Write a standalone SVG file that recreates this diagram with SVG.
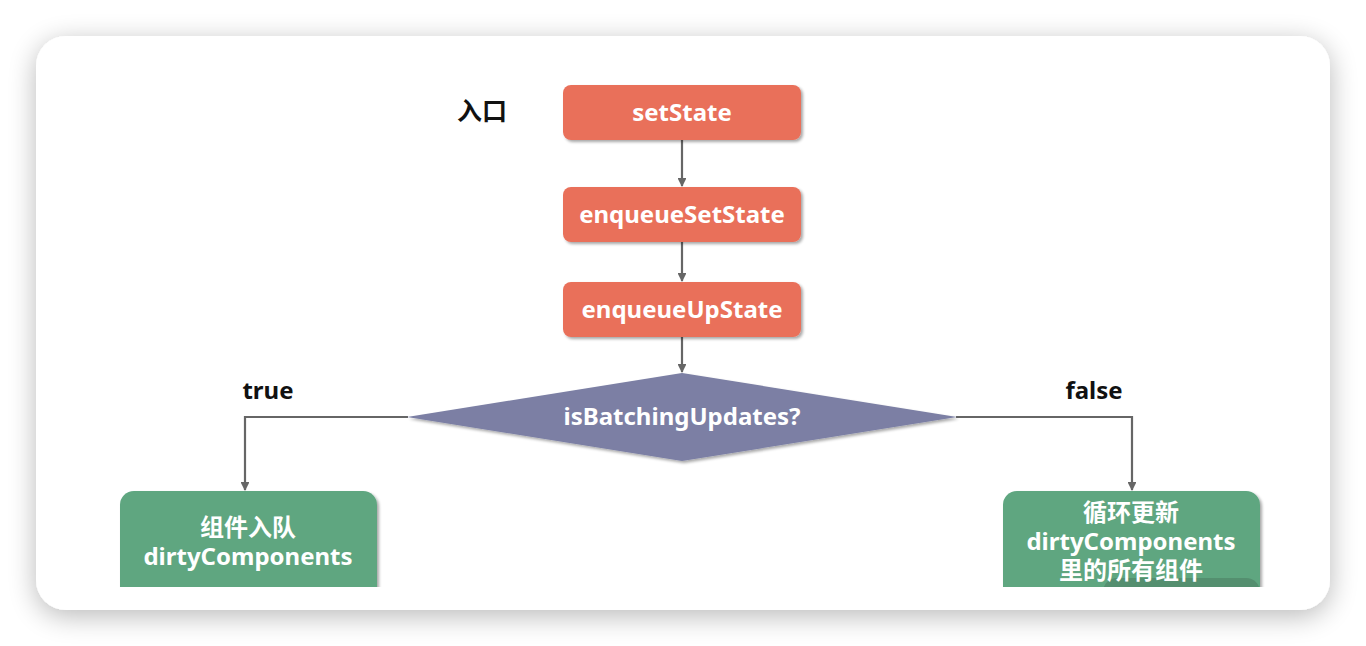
<svg xmlns="http://www.w3.org/2000/svg" width="1366" height="646" viewBox="0 0 1366 646">
<defs>
<filter id="cardShadow" x="-10%" y="-10%" width="120%" height="130%">
<feGaussianBlur in="SourceAlpha" stdDeviation="14"/>
<feOffset dy="6"/>
<feComponentTransfer><feFuncA type="linear" slope="0.28"/></feComponentTransfer>
<feMerge><feMergeNode/><feMergeNode in="SourceGraphic"/></feMerge>
</filter>
<filter id="boxShadow" x="-10%" y="-20%" width="125%" height="150%">
<feGaussianBlur in="SourceAlpha" stdDeviation="1.5"/>
<feOffset dx="2" dy="2"/>
<feComponentTransfer><feFuncA type="linear" slope="0.35"/></feComponentTransfer>
<feMerge><feMergeNode/><feMergeNode in="SourceGraphic"/></feMerge>
</filter>
<clipPath id="content"><rect x="36" y="36" width="1294" height="551"/></clipPath>
<marker id="arrow" viewBox="0 0 10 10" refX="9" refY="5" markerWidth="4" markerHeight="4" orient="auto" markerUnits="strokeWidth">
<path d="M0,0 L10,5 L0,10 z" fill="#666666"/>
</marker>
<style>
.orange{fill:#E9705A;filter:url(#boxShadow)}
.green{fill:#5EA680;filter:url(#boxShadow)}
.diamond{fill:#7B7FA4;filter:url(#boxShadow)}
.lbl{font-family:"Noto Sans","Open Sans","Noto Sans CJK SC",sans-serif;font-weight:700;font-size:24px;fill:#ffffff;text-anchor:middle}
.blk{font-family:"Noto Sans","Noto Sans CJK SC",sans-serif;font-weight:700;font-size:24px;fill:#111111;text-anchor:middle}
.conn{stroke:#666666;stroke-width:2.2;fill:none}
</style>
</defs>
<rect x="0" y="0" width="1366" height="646" fill="#ffffff"/>
<rect x="36" y="36" width="1294" height="574" rx="30" fill="#ffffff" filter="url(#cardShadow)"/>
<g clip-path="url(#content)">
<g id="connectors">
<line class="conn" x1="682" y1="140" x2="682" y2="186" marker-end="url(#arrow)"/>
<line class="conn" x1="682" y1="242" x2="682" y2="281" marker-end="url(#arrow)"/>
<line class="conn" x1="682" y1="337" x2="682" y2="372" marker-end="url(#arrow)"/>
<polyline class="conn" points="408,417 245,417 245,490" marker-end="url(#arrow)"/>
<polyline class="conn" points="956,417 1132,417 1132,490" marker-end="url(#arrow)"/>
</g>
<g id="entry-label"><text class="blk" x="482" y="120" style="font-size:25px">入口</text></g>
<g id="setState">
<rect class="orange" x="563" y="85" width="238" height="55" rx="8"/>
<text class="lbl" x="682" y="121">setState</text>
</g>
<g id="enqueueSetState">
<rect class="orange" x="563" y="187" width="238" height="55" rx="8"/>
<text class="lbl" x="682" y="223">enqueueSetState</text>
</g>
<g id="enqueueUpState">
<rect class="orange" x="563" y="282" width="238" height="55" rx="8"/>
<text class="lbl" x="682" y="318">enqueueUpState</text>
</g>
<g id="isBatchingUpdates">
<polygon class="diamond" points="682,373 957,417 682,461 407,417"/>
<text class="lbl" x="682" y="425">isBatchingUpdates?</text>
</g>
<g id="true-label"><text class="blk" x="268" y="399">true</text></g>
<g id="false-label"><text class="blk" x="1094" y="399">false</text></g>
<g id="enqueue-dirty">
<rect class="green" x="120" y="491" width="257" height="120" rx="14"/>
<text class="lbl" x="248" y="536">组件入队</text>
<text class="lbl" x="248" y="565">dirtyComponents</text>
</g>
<g id="update-dirty">
<rect class="green" x="1003" y="491" width="257" height="120" rx="14"/>
<rect x="1103" y="578" width="157" height="40" rx="14" fill="#548F6F"/>
<text class="lbl" x="1131" y="521">循环更新</text>
<text class="lbl" x="1131" y="550">dirtyComponents</text>
<text class="lbl" x="1131" y="579">里的所有组件</text>
</g>
</g>
</svg>
